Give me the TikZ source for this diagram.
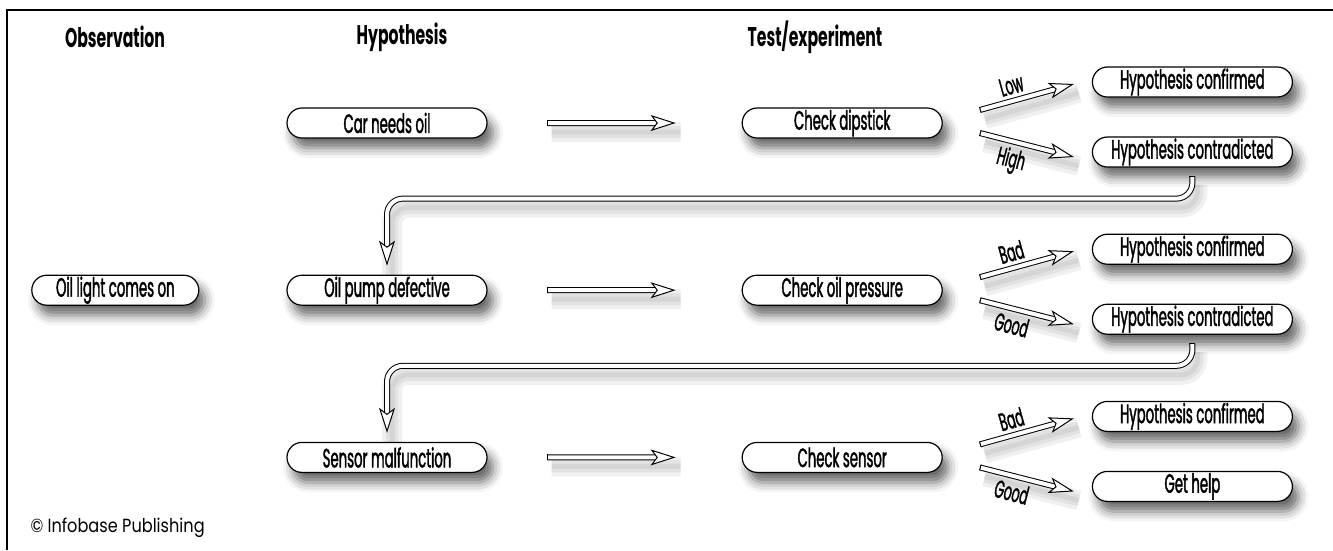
\documentclass[tikz,border=0pt]{standalone}
\usepackage{fontspec}
\newfontfamily\condfont{Poppins}[FakeStretch=0.5, FakeBold=1.4]
\newfontfamily\headfont{Poppins}[FakeStretch=0.58]
\newfontfamily\plainfont{Poppins}[FakeStretch=0.85]
\usepackage{tikz}
\usetikzlibrary{arrows.meta,positioning,calc,shapes.misc,shadows.blur}

\tikzset{
  pill/.style={draw, line width=1.2pt, fill=white, rounded rectangle, minimum width=200pt, minimum height=30pt, inner sep=0pt,
    font=\condfont\fontsize{26.5}{26.5}\selectfont,
    blur shadow={shadow xshift=6pt, shadow yshift=-10pt, shadow blur radius=10pt, shadow opacity=60}},
  colhead/.style={font=\headfont\bfseries\fontsize{27}{27}\selectfont},
  branch/.style={font=\condfont\fontsize{25}{25}\selectfont, inner sep=6pt},
  pipe/.style={double=white, double distance=4pt, line width=1pt, line join=round,
    {Bar[width=6pt, line width=1pt]}-{Stealth[length=25pt, width=16pt, inset=6pt, open, fill=white, line width=1pt]},
    preaction={draw=black, draw opacity=.06, line width=20pt, arrows=-, transform canvas={shift={(5pt,-9pt)}}},
    preaction={draw=black, draw opacity=.06, line width=12pt, arrows=-, transform canvas={shift={(5pt,-9pt)}}},
    preaction={draw=black, draw opacity=.06, line width=5pt, arrows=-, transform canvas={shift={(5pt,-9pt)}}}},
}

\begin{document}
\begin{tikzpicture}[x=1pt, y=-1pt]
  \useasboundingbox (0,0) rectangle (1333,550);
  \draw[line width=1.6pt] (7,550) -- (7,10) -- (1333,10);

  \node[colhead] (obs) at (115,37) {Observation};
  \node[colhead] (hyp) at (402,37) {Hypothesis};
  \node[colhead] (test) at (815,37) {Test/experiment};

  % first hypothesis
  \node[pill] (car) at (387,123) {Car needs oil};
  \node[pill, right=254pt of car] (dip) {Check dipstick};
  \node[pill, right=149pt of dip, yshift=41pt] (conf1) {Hypothesis confirmed};
  \node[pill, right=149pt of dip, yshift=-29pt] (contra1) {Hypothesis contradicted};

  % second hypothesis
  \node[pill, below=136pt of car] (pump) {Oil pump defective};
  \node[pill, left=87pt of pump, minimum width=167pt] (light) {Oil light comes on};
  \node[pill, right=254pt of pump] (press) {Check oil pressure};
  \node[pill, right=149pt of press, yshift=41pt] (conf2) {Hypothesis confirmed};
  \node[pill, right=149pt of press, yshift=-29pt] (contra2) {Hypothesis contradicted};

  % third hypothesis
  \node[pill, below=136pt of pump] (sensor) {Sensor malfunction};
  \node[pill, right=254pt of sensor] (chk) {Check sensor};
  \node[pill, right=149pt of chk, yshift=41pt] (conf3) {Hypothesis confirmed};
  \node[pill, right=149pt of chk, yshift=-29pt] (help) {Get help};

  \draw[pipe, shorten <=59pt, shorten >=66pt] (car) -- (dip);
  \draw[pipe, shorten <=59pt, shorten >=66pt] (pump) -- (press);
  \draw[pipe, shorten <=59pt, shorten >=66pt] (sensor) -- (chk);

  \draw[pipe] ([shift={(37,-13)}]dip.east) -- node[branch, pos=.38, above, sloped] {Low} ([shift={(-18,2)}]conf1.west);
  \draw[pipe] ([shift={(37,10)}]dip.east) -- node[branch, pos=.38, below, sloped] {High} ([shift={(-18,5)}]contra1.west);
  \draw[pipe] ([shift={(37,-13)}]press.east) -- node[branch, pos=.38, above, sloped] {Bad} ([shift={(-18,2)}]conf2.west);
  \draw[pipe] ([shift={(37,10)}]press.east) -- node[branch, pos=.38, below, sloped] {Good} ([shift={(-18,5)}]contra2.west);
  \draw[pipe] ([shift={(37,-13)}]chk.east) -- node[branch, pos=.38, above, sloped] {Bad} ([shift={(-18,2)}]conf3.west);
  \draw[pipe] ([shift={(37,10)}]chk.east) -- node[branch, pos=.38, below, sloped] {Good} ([shift={(-18,5)}]help.west);

  \draw[pipe, rounded corners=16pt, shorten <=8pt, shorten >=9pt] (contra1.south) -- ++(0,31) -| (pump.north);
  \draw[pipe, rounded corners=16pt, shorten <=8pt, shorten >=9pt] (contra2.south) -- ++(0,31) -| (sensor.north);

  \node[font=\plainfont\fontsize{19}{19}\selectfont, anchor=west] (credit) at (27,528) {© Infobase Publishing};
\end{tikzpicture}
\end{document}
